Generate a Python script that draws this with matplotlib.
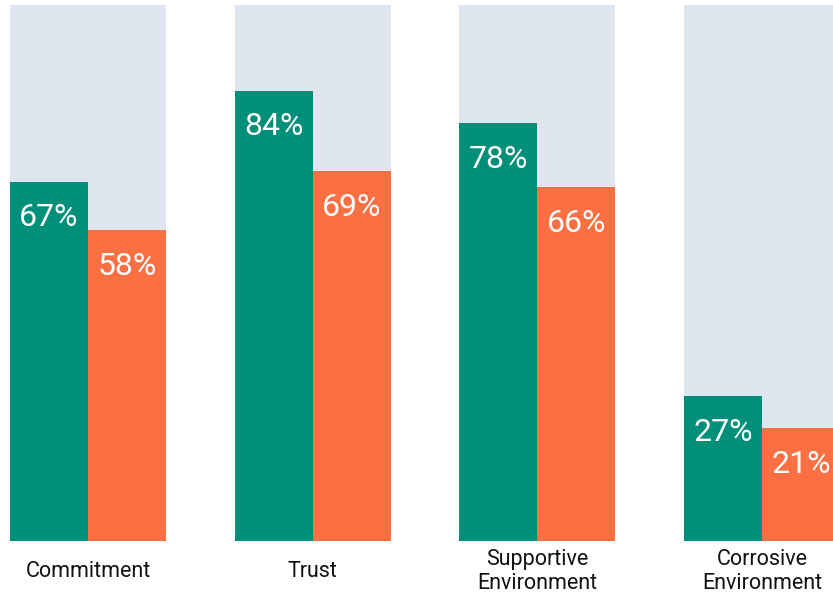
import numpy as np
import matplotlib.pyplot as plt

categories = ['Commitment', 'Trust', 'Supportive\nEnvironment', 'Corrosive\nEnvironment']
green_vals = [67, 84, 78, 27]
orange_vals = [58, 69, 66, 21]
full_scale = [100, 100, 100, 100]

GREEN = '#00907A'
ORANGE = '#FA7043'
GREY = '#E0E6EF'

plt.rcParams['font.family'] = ['Roboto', 'DejaVu Sans']

fig = plt.figure(figsize=(8.33, 5.93), dpi=100)
ax = fig.add_axes([0, 52 / 593, 1, 536 / 593])

x = np.arange(len(categories))
w = 78 / 224.67

# grey 100% backdrop behind each pair
ax.bar(x, full_scale, width=2 * w, color=GREY, zorder=1)
ax.bar(x - w / 2, green_vals, width=w, color=GREEN, zorder=2)
ax.bar(x + w / 2, orange_vals, width=w, color=ORANGE, zorder=2)

for xi, g, o in zip(x, green_vals, orange_vals):
    ax.annotate(f'{g}%', (xi - w / 2, g), xytext=(0, -26), textcoords='offset points',
                ha='center', va='center', color='white', fontsize=23, zorder=3)
    ax.annotate(f'{o}%', (xi + w / 2, o), xytext=(0, -26), textcoords='offset points',
                ha='center', va='center', color='white', fontsize=23, zorder=3)

for xi, cat in zip(x, categories):
    ax.annotate(cat, (xi, 0), xytext=(0, -22), textcoords='offset points',
                ha='center', va='center', fontsize=15.5, color='#111111',
                linespacing=1.2, annotation_clip=False)

ax.set_xlim(-88 / 224.67, (833 - 88) / 224.67)
ax.set_ylim(0, 100)
ax.axis('off')

fig.savefig('out.png', dpi=100)
